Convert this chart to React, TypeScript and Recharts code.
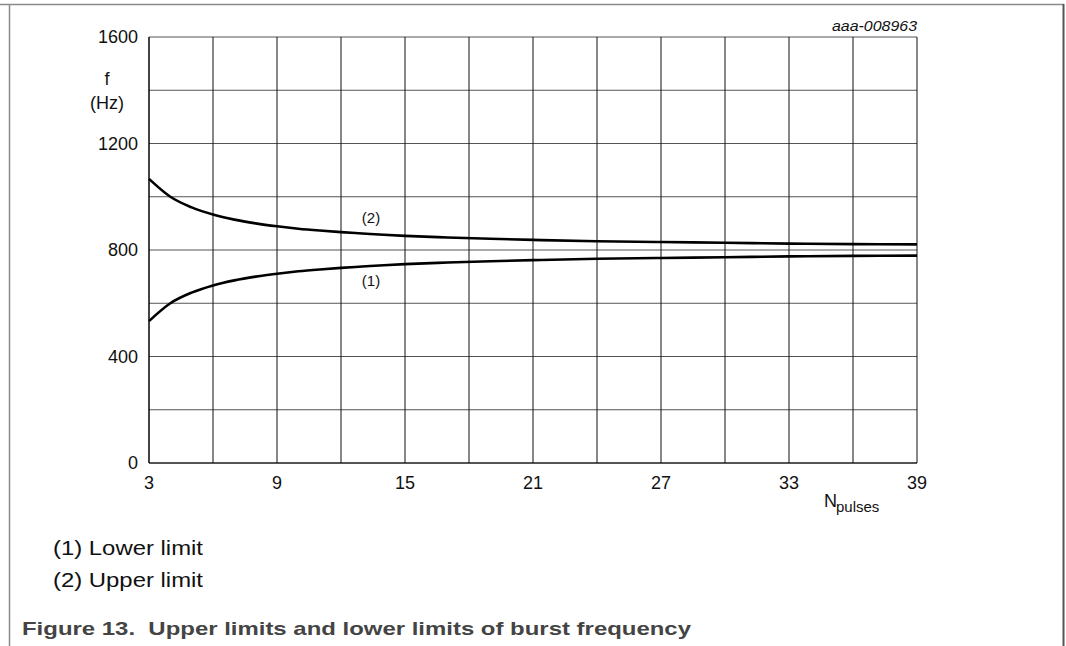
import React from 'react';
import {
  LineChart,
  Line,
  XAxis,
  YAxis,
  CartesianGrid,
} from 'recharts';

// N (number of pulses) and burst frequency limits
const pulses = [3, 4, 5, 6, 7, 8, 9, 10, 11, 12, 13, 14, 15, 17, 19, 21, 24, 27, 30, 33, 36, 39];
const upperLimit = [1067, 1000, 960, 933, 914, 900, 889, 880, 873, 867, 862, 857, 853, 847, 842, 838, 833, 830, 827, 824, 822, 821];
const lowerLimit = [533, 600, 640, 667, 686, 700, 711, 720, 727, 733, 738, 743, 747, 753, 758, 762, 767, 770, 773, 776, 778, 779];

const xTicks = [3, 6, 9, 12, 15, 18, 21, 24, 27, 30, 33, 36, 39];
const xLabelled = [3, 9, 15, 21, 27, 33, 39];
const yTicks = [0, 200, 400, 600, 800, 1000, 1200, 1400, 1600];
const yLabelled = [0, 400, 800, 1200, 1600];

const data = pulses.map((n, i) => ({ n, upper: upperLimit[i], lower: lowerLimit[i] }));

const FONT = 'Arial, "Liberation Sans", Helvetica, sans-serif';
const W = 1066;
const H = 646;

export default function App() {
  return (
    <div style={{ position: 'absolute', left: 0, top: 0, width: W, height: H, background: '#fff', fontFamily: FONT }}>
      <LineChart
        width={W}
        height={H}
        data={data}
        margin={{ top: 37, right: 149, bottom: 143, left: 89 }}
      >
        {/* horizontal lines are a touch greyer than the vertical ones */}
        <CartesianGrid vertical={false} stroke="#555" strokeWidth={1} />
        <CartesianGrid horizontal={false} stroke="#111" strokeWidth={1} />
        <XAxis
          dataKey="n"
          type="number"
          domain={[3, 39]}
          ticks={xTicks}
          interval={0}
          height={40}
          tickLine={false}
          tickSize={0}
          tickMargin={13.5}
          axisLine={{ stroke: '#000' }}
          tickFormatter={(v: number) => (xLabelled.includes(v) ? String(v) : '')}
          tick={{ fontSize: 18, fill: '#111', fontFamily: FONT }}
        />
        <YAxis
          type="number"
          domain={[0, 1600]}
          ticks={yTicks}
          interval={0}
          width={60}
          tickLine={false}
          tickSize={0}
          tickMargin={11}
          axisLine={{ stroke: '#000' }}
          tickFormatter={(v: number) => (yLabelled.includes(v) ? String(v) : '')}
          tick={{ fontSize: 18, fill: '#111', fontFamily: FONT }}
        />
        <Line
          dataKey="upper"
          type="monotone"
          stroke="#000"
          strokeWidth={2.6}
          dot={false}
          isAnimationActive={false}
        />
        <Line
          dataKey="lower"
          type="monotone"
          stroke="#000"
          strokeWidth={2.6}
          dot={false}
          isAnimationActive={false}
        />
      </LineChart>

      <svg
        width={W}
        height={H}
        style={{ position: 'absolute', left: 0, top: 0, pointerEvents: 'none' }}
        fontFamily={FONT}
      >
        {/* page frame */}
        <line x1={0} y1={4.5} x2={1064} y2={4.5} stroke="#8a8a8a" strokeWidth={1.5} />
        <line x1={9.5} y1={4} x2={9.5} y2={H} stroke="#8a8a8a" strokeWidth={1.5} />
        <line x1={1063.5} y1={4} x2={1063.5} y2={H} stroke="#555" strokeWidth={2} />

        <text x={917} y={30.5} fontSize={14} fontStyle="italic" textAnchor="end" fill="#111"
          textLength={85} lengthAdjust="spacingAndGlyphs">aaa-008963</text>

        <text x={107} y={85} fontSize={18} textAnchor="middle" fill="#111">f</text>
        <text x={107} y={109.3} fontSize={18} textAnchor="middle" fill="#111">(Hz)</text>

        <text x={824} y={507.3} fontSize={18} fill="#111">N</text>
        <text x={836} y={512} fontSize={15} fill="#111">pulses</text>

        <text x={371} y={223} fontSize={15} textAnchor="middle" fill="#111">(2)</text>
        <text x={371} y={286} fontSize={15} textAnchor="middle" fill="#111">(1)</text>

        <text x={53} y={555} fontSize={20} fill="#111" textLength={150} lengthAdjust="spacingAndGlyphs">(1) Lower limit</text>
        <text x={53} y={587} fontSize={20} fill="#111" textLength={150} lengthAdjust="spacingAndGlyphs">(2) Upper limit</text>

        <text x={22} y={635} fontSize={19} fontWeight="bold" fill="#444" textLength={669} lengthAdjust="spacingAndGlyphs"
          style={{ whiteSpace: 'pre' }}>{'Figure 13.  Upper limits and lower limits of burst frequency'}</text>
      </svg>
    </div>
  );
}
